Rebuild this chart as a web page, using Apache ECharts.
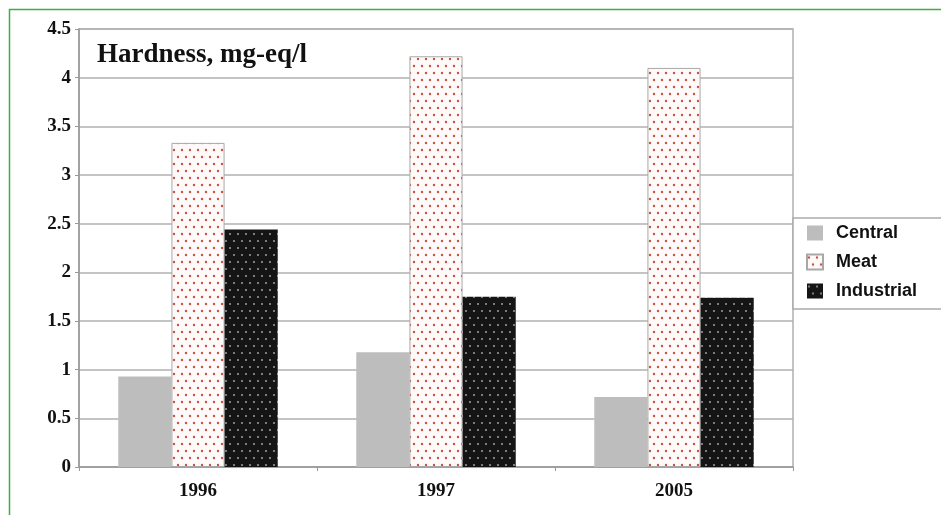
<!DOCTYPE html>
<html>
<head>
<meta charset="utf-8">
<script src="https://cdn.jsdelivr.net/npm/echarts@6/dist/echarts.min.js"></script>
<style>html,body{margin:0;padding:0;background:#fff;}#c{width:941px;height:515px;}</style>
</head>
<body>
<div id="c"></div>
<script>
const categories = ['1996', '1997', '2005'];
const seriesNames = ['Central', 'Meat', 'Industrial'];
const centralValues = [0.93, 1.18, 0.72];
const meatValues = [3.33, 4.22, 4.10];
const industrialValues = [2.44, 1.75, 1.74];
const titleText = 'Hardness, mg-eq/l';

function makePattern(bg, dot, w, h, pts, r) {
  const cv = document.createElement('canvas');
  cv.width = w; cv.height = h;
  const ctx = cv.getContext('2d');
  ctx.fillStyle = bg; ctx.fillRect(0, 0, w, h);
  ctx.fillStyle = dot;
  pts.forEach(p => { ctx.beginPath(); ctx.arc(p[0], p[1], r, 0, Math.PI * 2); ctx.fill(); });
  return { image: cv, repeat: 'repeat' };
}
const meatPattern = makePattern('#fffafa', '#c9503e', 8, 14, [[2, 3], [6, 10]], 1.2);
const indPattern = makePattern('#151515', '#a0a0a0', 8, 14, [[2, 3], [6, 10]], 1.0);

const chart = echarts.init(document.getElementById('c'));
const serif = '"Liberation Serif", "Times New Roman", serif';
const sans = '"Liberation Sans", Arial, sans-serif';
chart.setOption({
  animation: false,
  backgroundColor: '#fff',
  grid: { left: 79, right: 148, top: 29, bottom: 48, show: true, borderColor: '#b0b0b0', borderWidth: 1.5 },
  graphic: [
    { type: 'rect', shape: { x: 9.5, y: 9.5, width: 1000, height: 1000 }, style: { fill: null, stroke: '#3dae3d', lineWidth: 1.5 }, z: 100 },
    { type: 'rect', shape: { x: 92, y: 38, width: 225, height: 36 }, style: { fill: '#fff' }, z: 50 },
    { type: 'text', left: 97, top: 42, z: 60, style: { text: titleText, font: 'bold 27px ' + serif, fill: '#111' } }
  ],
  legend: {
    orient: 'vertical', left: 793, top: 218,
    padding: [6, 40, 9, 13], itemGap: 11,
    itemWidth: 16, itemHeight: 15, icon: 'rect',
    borderColor: '#aaa', borderWidth: 1.5, backgroundColor: '#fff',
    textStyle: { fontFamily: sans, fontWeight: 'bold', fontSize: 18, lineHeight: 18, color: '#111', padding: [0, 0, 0, 8] },
    data: seriesNames
  },
  xAxis: {
    type: 'category', data: categories,
    axisLine: { lineStyle: { color: '#999', width: 1.5 } },
    axisTick: { show: true, length: 4, lineStyle: { color: '#999' } },
    axisLabel: { fontFamily: serif, fontWeight: 'bold', fontSize: 19, color: '#111', margin: 15 }
  },
  yAxis: {
    type: 'value', min: 0, max: 4.5, interval: 0.5,
    axisLine: { show: true, lineStyle: { color: '#999', width: 1.5 } },
    axisTick: { show: true, length: 4, lineStyle: { color: '#999' } },
    splitLine: { lineStyle: { color: '#b0b0b0', width: 1.5 } },
    axisLabel: { fontFamily: serif, fontWeight: 'bold', fontSize: 19, color: '#111', margin: 8 }
  },
  series: [
    { name: seriesNames[0], type: 'bar', data: centralValues, barGap: '0%', barCategoryGap: '33%', itemStyle: { color: '#bdbdbd' } },
    { name: seriesNames[1], type: 'bar', data: meatValues, barGap: '0%', barCategoryGap: '33%', itemStyle: { color: meatPattern, borderColor: '#a8a8a8', borderWidth: 1 } },
    { name: seriesNames[2], type: 'bar', data: industrialValues, barGap: '0%', barCategoryGap: '33%', itemStyle: { color: indPattern } }
  ]
});
</script>
</body>
</html>
